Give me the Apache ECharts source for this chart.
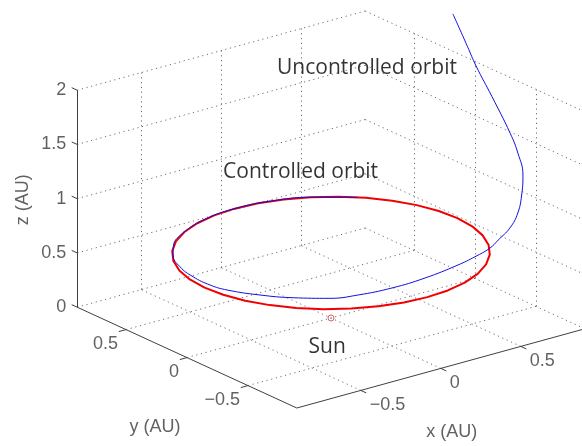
<!DOCTYPE html>
<html><head><meta charset="utf-8">
<script src="https://cdn.jsdelivr.net/npm/echarts@6/dist/echarts.min.js"></script>
<style>html,body{margin:0;padding:0;background:#fff}#c{width:582px;height:446px}</style>
</head><body><div id="c"></div>
<script>
// ---- axis limits and ticks (AU) ----
const xLim = [-0.9, 0.9];
const yLim = [-0.9, 0.9];
const zLim = [0, 2];
const xTicks = [-0.5, 0, 0.5];
const yTicks = [-0.5, 0, 0.5];
const zTicks = [0, 0.5, 1, 1.5, 2];
const xTickLabels = ['\u22120.5', '0', '0.5'];
const yTickLabels = ['\u22120.5', '0', '0.5'];
const zTickLabels = ['0', '0.5', '1', '1.5', '2'];
const axisTitles = ['x (AU)', 'y (AU)', 'z (AU)'];

// ---- controlled orbit (red) ----
const ctrlX = [0.790,0.778,0.742,0.684,0.605,0.508,0.395,0.270,0.137,0.000,-0.137,-0.270,-0.395,-0.508,-0.605,-0.684,-0.742,-0.778,-0.790,-0.778,-0.742,-0.684,-0.605,-0.508,-0.395,-0.270,-0.137,0.000,0.137,0.270,0.395,0.508,0.605,0.684,0.742,0.778,0.790];
const ctrlY = [0.000,0.137,0.270,0.395,0.508,0.605,0.684,0.742,0.778,0.790,0.778,0.742,0.684,0.605,0.508,0.395,0.270,0.137,0.000,-0.137,-0.270,-0.395,-0.508,-0.605,-0.684,-0.742,-0.778,-0.790,-0.778,-0.742,-0.684,-0.605,-0.508,-0.395,-0.270,-0.137,0.000];
const ctrlZ = [0.6,0.6,0.6,0.6,0.6,0.6,0.6,0.6,0.6,0.6,0.6,0.6,0.6,0.6,0.6,0.6,0.6,0.6,0.6,0.6,0.6,0.6,0.6,0.6,0.6,0.6,0.6,0.6,0.6,0.6,0.6,0.6,0.6,0.6,0.6,0.6,0.6];

// ---- uncontrolled orbit (blue) ----
const uncX = [0.578,0.395,0.204,0.000,-0.204,-0.395,-0.559,-0.635,-0.708,-0.742,-0.746,-0.722,-0.636,-0.530,-0.391,-0.253,-0.060,0.154,0.393,0.530,0.663,0.725,0.805,0.872,0.934,0.967,0.970,0.970,0.990,0.976,0.960,0.941];
const uncY = [0.539,0.684,0.763,0.790,0.763,0.684,0.559,0.462,0.310,0.158,0.013,-0.095,-0.252,-0.384,-0.504,-0.553,-0.579,-0.569,-0.525,-0.485,-0.434,-0.419,-0.410,-0.388,-0.340,-0.305,-0.260,-0.197,-0.021,0.091,0.140,0.235];
const uncZ = [0.6,0.6,0.6,0.6,0.6,0.6,0.6,0.6,0.6,0.6,0.6,0.6,0.6,0.6,0.6,0.6,0.6,0.6,0.6,0.6,0.6,0.64,0.714,0.815,0.95,1.083,1.26,1.41,1.65,1.88,2.04,2.30];

// ---- Sun and text annotations ----
const sunPos = [0, 0, 0];
const annoText = ['Uncontrolled orbit', 'Controlled orbit', 'Sun'];
const annoX = [0.225, -0.19, -0.26];
const annoY = [0, 0, -0.31];
const annoZ = [2.21, 1.42, 0];

// ---- orthographic view (az -37.5deg, low elevation), pixels per AU ----
const EX = [160, -44], EY = [-122, -56], EZ = [0, -108.5];
function P(x, y, z) { return [EX[0]*x + EY[0]*y + EZ[0]*z, EX[1]*x + EY[1]*y + EZ[1]*z]; }

const [x0, x1] = xLim, [y0, y1] = yLim, [z0, z1] = zLim;
const TL = 0.045;

// grid segments (dotted)
const gridSegs = [];
zTicks.forEach(z => {
  gridSegs.push([[x0, y1, z], [x1, y1, z]]);
  gridSegs.push([[x1, y1, z], [x1, y0, z]]);
});
xTicks.forEach(x => {
  gridSegs.push([[x, y1, z0], [x, y1, z1]]);
  gridSegs.push([[x, y0, z0], [x, y1, z0]]);
});
yTicks.forEach(y => {
  gridSegs.push([[x1, y, z0], [x1, y, z1]]);
  gridSegs.push([[x0, y, z0], [x1, y, z0]]);
});
// axis lines and ticks
const axisSegs = [
  [[x0, y1, z0], [x0, y1, z1]],
  [[x0, y1, z0], [x0, y0, z0]],
  [[x0, y0, z0], [x1, y0, z0]]
];
const tickSegs = [];
xTicks.forEach(x => tickSegs.push([[x, y0, z0], [x, y0 - TL, z0]]));
yTicks.forEach(y => tickSegs.push([[x0, y, z0], [x0 - TL, y, z0]]));
zTicks.forEach(z => tickSegs.push([[x0, y1, z], [x0, y1 + TL, z]]));

const toLines = segs => segs.map(s => ({ coords: [P(...s[0]), P(...s[1])] }));

const tickFont = { fontFamily: 'Liberation Sans', fontSize: 18, color: '#3a3a3a' };
function labelSeries(points, texts, pos, align, rotate) {
  return {
    type: 'scatter', symbolSize: 0, silent: true, z: 5,
    itemStyle: { color: 'rgba(0,0,0,0)' },
    data: points.map((p, i) => [...P(...p), texts[i]]),
    label: Object.assign({ show: true, position: pos, align: align, verticalAlign: 'middle',
      rotate: rotate || 0, formatter: q => q.value[2] }, tickFont)
  };
}

const chart = echarts.init(document.getElementById('c'), null, { renderer: 'canvas' });
chart.setOption({
  animation: false,
  backgroundColor: '#fff',
  grid: { left: 0, right: 0, top: 0, bottom: 0 },
  xAxis: { type: 'value', min: -331, max: 251, show: false },
  yAxis: { type: 'value', min: -318, max: 128, inverse: true, show: false },
  series: [
    { type: 'lines', coordinateSystem: 'cartesian2d', silent: true, z: 1,
      data: toLines(gridSegs),
      lineStyle: { color: '#6e6e6e', width: 1, type: [1.2, 3.6], opacity: 1 } },
    { type: 'lines', coordinateSystem: 'cartesian2d', silent: true, z: 2,
      data: toLines(axisSegs.concat(tickSegs)),
      lineStyle: { color: '#404040', width: 1, opacity: 1 } },
    { type: 'line', silent: true, z: 3, symbol: 'none', smooth: false,
      data: ctrlX.map((x, i) => P(x, ctrlY[i], ctrlZ[i])),
      lineStyle: { color: '#f00000', width: 2 } },
    { type: 'line', silent: true, z: 3, symbol: 'none', smooth: 0.45,
      data: uncX.map((x, i) => P(x, uncY[i], uncZ[i])),
      lineStyle: { color: '#1010e0', width: 1 } },
    { type: 'scatter', silent: true, z: 4, symbol: 'circle', symbolSize: 6,
      data: [P(...sunPos)],
      itemStyle: { color: 'rgba(0,0,0,0)', borderColor: '#d03a3a', borderWidth: 1 } },
    labelSeries(xTicks.map(x => [x, y0, z0]), xTickLabels, [9, 15], 'left'),
    labelSeries(yTicks.map(y => [x0, y, z0]), yTickLabels, [-8, 14], 'right'),
    labelSeries(zTicks.map(z => [x0, y1, z]), zTickLabels, [-11, 0], 'right'),
    labelSeries([[0, y0, z0]], [axisTitles[0]], [11, 64], 'center'),
    labelSeries([[x0, 0, z0]], [axisTitles[1]], [-32, 69], 'center'),
    labelSeries([[x0, y1, 1]], [axisTitles[2]], [-54, 1], 'center', 90),
    {
      type: 'scatter', symbolSize: 0, silent: true, z: 6,
      itemStyle: { color: 'rgba(0,0,0,0)' },
      data: annoText.map((t, i) => [...P(annoX[i], annoY[i], annoZ[i]), t]),
      label: { show: true, position: [0, 0], align: 'center', verticalAlign: 'middle',
        formatter: q => q.value[2], fontFamily: 'Open Sans', fontSize: 21, color: '#000' }
    }
  ]
});
</script>
</body></html>
